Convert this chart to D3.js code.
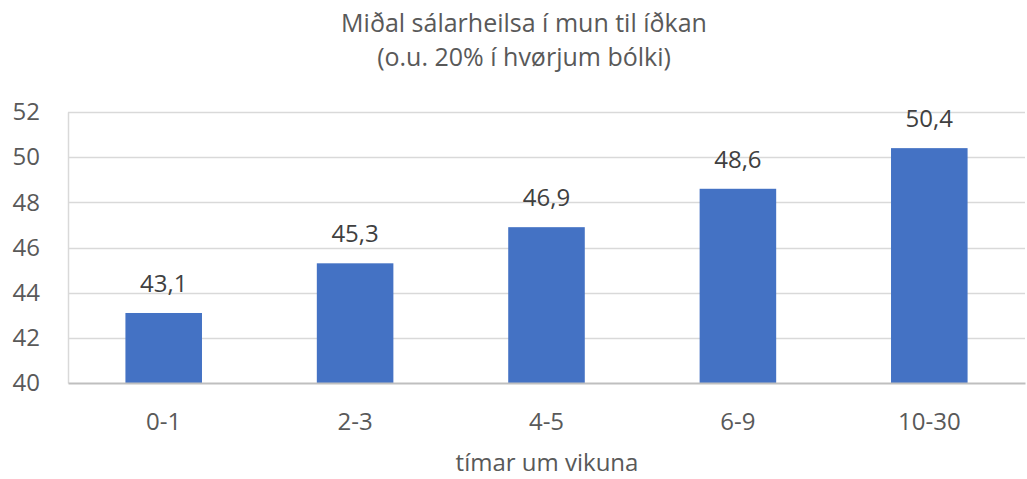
<!DOCTYPE html>
<html>
<head>
<meta charset="utf-8">
<script src="https://cdn.jsdelivr.net/npm/d3@7"></script>
<style>
  body { margin: 0; background: #fff; }
  svg { display: block; font-family: "Open Sans", sans-serif; }
</style>
</head>
<body>
<svg width="1027" height="479"></svg>
<script>
/* data */
var categories = ["0-1", "2-3", "4-5", "6-9", "10-30"]
var values = [43.1, 45.3, 46.9, 48.6, 50.4]
var yTicks = [40, 42, 44, 46, 48, 50, 52]
var titleLines = ["Miðal sálarheilsa í mun til íðkan", "(o.u. 20% í hvørjum bólki)"]
var xTitle = "tímar um vikuna"

/* layout */
var plotLeft = 68, plotRight = 1025
var plotTop = 112, plotBottom = 383

var svg = d3.select("svg")

var x = d3.scaleBand()
    .domain(categories)
    .range([plotLeft, plotRight])
    .paddingInner(0.6)
    .paddingOuter(0.3)

var y = d3.scaleLinear()
    .domain([40, 52])
    .range([plotBottom, plotTop])

/* title */
svg.append("g")
    .selectAll("text")
    .data(titleLines)
    .enter()
    .append("text")
    .attr("x", 524)
    .attr("y", function(d, i) { return 32 + i * 34 })
    .attr("text-anchor", "middle")
    .attr("fill", "#595959")
    .attr("font-size", 25)
    .text(function(d) { return d })

/* grid */
svg.append("g")
    .selectAll("line")
    .data(yTicks.slice(1))
    .enter()
    .append("line")
    .attr("x1", plotLeft)
    .attr("x2", plotRight)
    .attr("y1", function(d) { return Math.round(y(d)) + 0.5 })
    .attr("y2", function(d) { return Math.round(y(d)) + 0.5 })
    .attr("stroke", "#d9d9d9")
    .attr("stroke-width", 1.5)

/* y axis */
var yAxis = svg.append("g")
    .attr("transform", "translate(" + plotLeft + ",0)")
    .call(d3.axisLeft(y).tickValues(yTicks).tickSize(0).tickPadding(28))
yAxis.select(".domain").attr("stroke", "#d9d9d9").attr("stroke-width", 1.5)
yAxis.selectAll("text")
    .attr("fill", "#595959")
    .attr("font-size", 24)
    .attr("font-family", "Open Sans")

/* bars */
svg.append("g")
    .selectAll("rect")
    .data(values)
    .enter()
    .append("rect")
    .attr("x", function(d, i) { return x(categories[i]) })
    .attr("y", function(d) { return y(d) })
    .attr("width", x.bandwidth())
    .attr("height", function(d) { return plotBottom - y(d) })
    .attr("fill", "#4472c4")

/* data labels */
svg.append("g")
    .selectAll("text")
    .data(values)
    .enter()
    .append("text")
    .attr("x", function(d, i) { return x(categories[i]) + x.bandwidth() / 2 })
    .attr("y", function(d) { return y(d) - 21 })
    .attr("text-anchor", "middle")
    .attr("fill", "#404040")
    .attr("font-size", 24)
    .text(function(d) { return d3.format(".1f")(d).replace(".", ",") })

/* x axis */
var xAxis = svg.append("g")
    .attr("transform", "translate(0," + plotBottom + ")")
    .call(d3.axisBottom(x).tickSize(0).tickPadding(30))
xAxis.select(".domain").attr("stroke", "#bfbfbf").attr("stroke-width", 2)
xAxis.selectAll("text")
    .attr("fill", "#595959")
    .attr("font-size", 24)
    .attr("font-family", "Open Sans")

svg.append("text")
    .attr("x", 547)
    .attr("y", 471)
    .attr("text-anchor", "middle")
    .attr("fill", "#595959")
    .attr("font-size", 24)
    .text(xTitle)
</script>
</body>
</html>
